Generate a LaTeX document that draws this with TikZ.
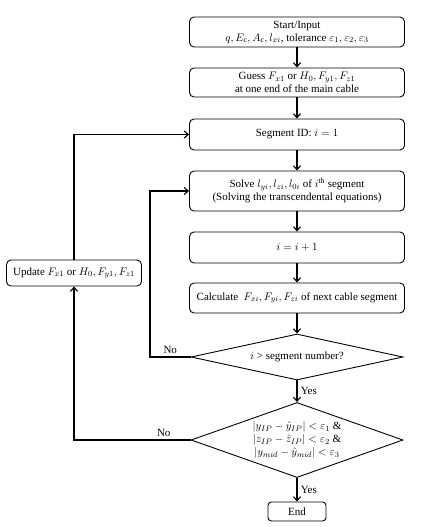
\documentclass[tikz,border=0pt]{standalone}
\usepackage{amsmath,amssymb}
\usepackage{fontspec}
\setmainfont{Liberation Serif}
\usepackage{tikz}
\usetikzlibrary{arrows.meta,calc,positioning,shapes.geometric}
\tikzset{
  stepbox/.style={draw,line width=0.9pt,rounded corners=1.6mm,align=center,minimum width=215pt,inner sep=2pt},
  decision/.style={draw,diamond,line width=0.9pt,align=center,inner sep=0pt,minimum width=212pt},
  flow/.style={-{Straight Barb[length=4pt,width=7pt]},line width=1.1pt},
  lbl/.style={font=\fontsize{11}{12}\selectfont}
}

\begin{document}
\begin{tikzpicture}[x=1pt,y=-1pt,font=\fontsize{11}{13}\selectfont]
  \useasboundingbox (0,0) rectangle (424,527);
  % main column
  \node[stepbox,minimum height=30pt] (start) at (297,32) {Start/Input\\$q, E_\mathrm{c}, A_\mathrm{c}, l_{xi}$, tolerance $\varepsilon_1, \varepsilon_2, \varepsilon_3$};
  \node[stepbox,minimum height=29pt] (guess) at (297,82.5) {Guess $F_{x1}$ or $H_0, F_{y1}, F_{z1}$\\at one end of the main cable};
  \node[stepbox,minimum height=31pt] (segid) at (297,134.5) {Segment ID: $i = 1$};
  \node[stepbox,minimum height=40pt] (solve) at (297,191) {Solve $l_{yi}, l_{zi}, l_{0i}$ of $i^\mathrm{th}$ segment\\(Solving the transcendental equations)};
  \node[stepbox,minimum height=31pt] (inc) at (297,247.5) {$i = i + 1$};
  \node[stepbox,minimum height=30pt] (calc) at (297,298) {Calculate~ $F_{xi}, F_{yi}, F_{zi}$ of next cable segment};
  \node[decision,minimum height=46pt,shape aspect=4.6] (segchk) at (297,357) {$i$ > segment number?};
  \node[decision,minimum height=75pt,shape aspect=2.8] (tolchk) at (297,440) {$|y_{IP} - \hat{y}_{IP}| < \varepsilon_1$ \&\\$|z_{IP} - \hat{z}_{IP}| < \varepsilon_2$ \&\\$|y_{mid} - \hat{y}_{mid}| < \varepsilon_3$};
  \node[stepbox,minimum width=58pt,minimum height=19pt,rounded corners=1.2mm] (stop) at (297,511.5) {End};
  % update loop
  \node[stepbox,minimum width=135pt,minimum height=26pt] (update) at (74,273) {Update $F_{x1}$ or $H_0, F_{y1}, F_{z1}$};
  \coordinate (noturn) at (150,357);
  \draw[flow] (start) -- (guess);
  \draw[flow] (guess) -- (segid);
  \draw[flow] (segid) -- (solve);
  \draw[flow] (solve) -- (inc);
  \draw[flow] (inc) -- (calc);
  \draw[flow] (calc) -- (segchk);
  \draw[flow] (segchk) -- node[right,lbl] {Yes} (tolchk);
  \draw[flow] (tolchk) -- node[right,lbl] {Yes} (stop);
  \draw[flow] (segchk.west) -- node[above,lbl] {No} (noturn) |- (solve.west);
  \draw[flow] (tolchk.west) -- node[above,pos=0.23,lbl] {No} (tolchk.west -| update.south) -- (update.south);
  \draw[flow] (update.north) |- (segid.west);
\end{tikzpicture}
\end{document}
